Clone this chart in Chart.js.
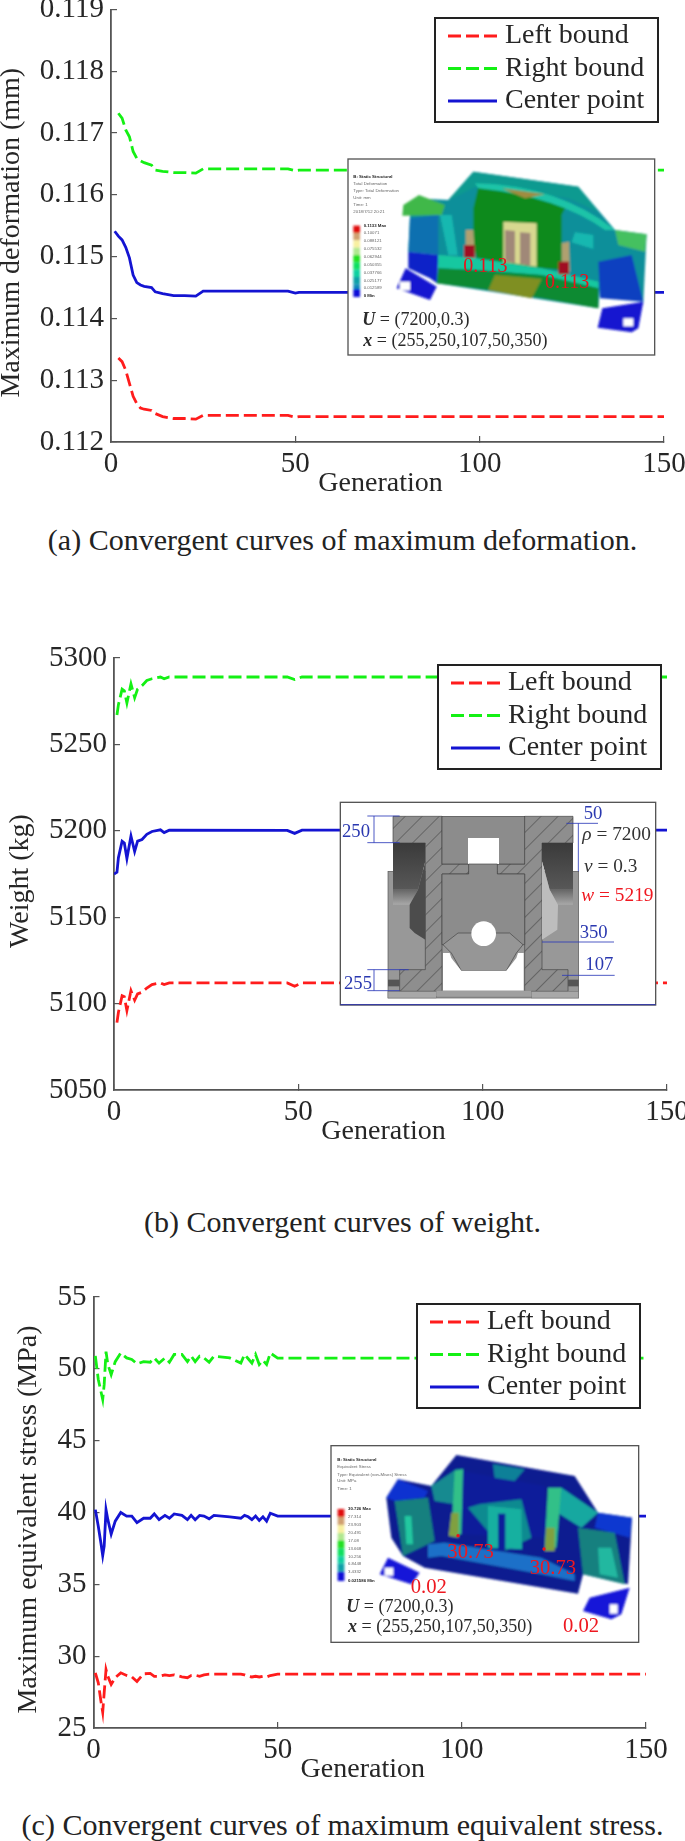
<!DOCTYPE html>
<html>
<head>
<meta charset="utf-8">
<title>Convergent curves</title>
<script src="https://cdn.jsdelivr.net/npm/chart.js@4/dist/chart.umd.js"></script>
<style>
    html, body { margin: 0; padding: 0; background: #fff; }
    body { position: relative; width: 685px; height: 1841px; overflow: hidden; }
    canvas { position: absolute; left: 0; }
    svg { position: absolute; }
    svg text { font-family: "Liberation Serif", serif; }
    svg .small text { font-family: "Liberation Sans", sans-serif; font-size: 13px; fill: #666; }
    svg .small text.strong { font-weight: bold; fill: #222; }
    .caption {
        position: absolute; left: 0; width: 685px; text-align: center; white-space: nowrap;
        font-family: "Liberation Serif", serif; font-size: 30px; line-height: 34px; color: #222;
    }
</style>
</head>
<body>

<canvas id="chartA"></canvas>
<canvas id="chartB"></canvas>
<canvas id="chartC"></canvas>

<div class="caption" style="top:523px">(a) Convergent curves of maximum deformation.</div>
<div class="caption" style="top:1205px">(b) Convergent curves of weight.</div>
<div class="caption" style="top:1808px">(c) Convergent curves of maximum equivalent stress.</div>

<!-- inset (a): deformation contour picture -->
<svg style="left:345px;top:155px" width="320" height="205" viewBox="0 0 960 615">
    <defs>
        <filter id="soft"><feGaussianBlur stdDeviation="3"></feGaussianBlur></filter>
    </defs>
    <rect x="9" y="12" width="920" height="588" fill="#fff" stroke="#555" stroke-width="4"></rect>
    <g filter="url(#soft)">
        <polygon points="155,400 182,340 275,395 255,435" fill="#1212d0"></polygon>
        <polygon points="772,460 895,440 880,520 860,532 758,518" fill="#1212d0"></polygon>
        <polygon points="195,180 210,130 310,135 385,50 700,95 810,225 905,238 895,440 765,400 760,460 275,385 280,300 190,290" fill="#0f8f9a"></polygon>
        <polygon points="172,182 175,150 222,120 300,150 290,180" fill="#3fb84a"></polygon>
        <polygon points="810,225 905,238 900,290 820,270" fill="#45c060"></polygon>
        <polygon points="195,190 280,180 280,300 190,290" fill="#0a6fb0"></polygon>
        <polygon points="190,290 280,300 276,385 255,370 190,340" fill="#1020c8"></polygon>
        <polygon points="760,320 860,300 895,440 765,430" fill="#1040c0"></polygon>
        <polygon points="285,180 320,180 338,300 310,300" fill="#16b8b0"></polygon>
        <polygon points="745,240 690,232 680,262 745,282" fill="#16b8b0"></polygon>
        <polygon points="310,135 385,50 700,95 760,170 670,130 400,92" fill="#0f9a90"></polygon>
        <polygon points="400,95 670,140 650,180 650,345 590,340 395,310 385,260 385,160" fill="#0d8a1c"></polygon>
        <path d="M390,85 Q640,90 810,225 L780,225 Q640,125 400,100 Z" fill="#1bc4a8"></path>
        <polygon points="470,100 600,118 540,130" fill="#a08c40"></polygon>
        <polygon points="475,200 575,205 575,335 475,320" fill="#d8d890"></polygon>
        <polygon points="480,225 510,228 510,325 480,318" fill="#a08878"></polygon>
        <polygon points="525,232 556,234 556,332 525,326" fill="#a08878"></polygon>
        <polygon points="280,300 395,310 590,340 760,380 760,400 590,360 395,345 280,340" fill="#18c8a0"></polygon>
        <polygon points="280,340 395,345 590,360 760,400 760,460 590,430 430,405 275,385" fill="#0d8a30"></polygon>
        <polygon points="450,360 590,372 560,430 430,405" fill="#7f8f20"></polygon>
        <polygon points="362,225 385,225 390,310 362,300" fill="#b0a070"></polygon>
        <polygon points="650,265 672,260 675,350 650,340" fill="#b0a070"></polygon>
        <rect x="357" y="270" width="32" height="38" fill="#a01020"></rect>
        <rect x="640" y="320" width="32" height="38" fill="#a01020"></rect>
        <rect x="165" y="380" width="30" height="26" fill="#fff"></rect>
        <rect x="835" y="490" width="30" height="24" fill="#fff"></rect>
        <rect x="25" y="212" width="20" height="22" fill="#e01010"></rect>
        <rect x="25" y="234" width="20" height="22" fill="#d0a070"></rect>
        <rect x="25" y="256" width="20" height="22" fill="#f8f0a0"></rect>
        <rect x="25" y="278" width="20" height="22" fill="#b0e890"></rect>
        <rect x="25" y="300" width="20" height="22" fill="#20e020"></rect>
        <rect x="25" y="322" width="20" height="22" fill="#10e060"></rect>
        <rect x="25" y="344" width="20" height="22" fill="#10d0a0"></rect>
        <rect x="25" y="366" width="20" height="22" fill="#10a0a8"></rect>
        <rect x="25" y="388" width="20" height="14" fill="#1088b8"></rect>
        <rect x="25" y="402" width="20" height="24" fill="#1010d8"></rect>
    </g>
    <g class="small">
        <text class="strong" x="25" y="68">B: Static Structural</text>
        <text x="25" y="90">Total Deformation</text>
        <text x="25" y="111">Type: Total Deformation</text>
        <text x="25" y="132">Unit: mm</text>
        <text x="25" y="152">Time: 1</text>
        <text x="25" y="173">2018/7/12 20:21</text>
        <text class="strong" x="56" y="216">0.1133 Max</text>
        <text x="56" y="238">0.10071</text>
        <text x="56" y="261">0.088121</text>
        <text x="56" y="285">0.075532</text>
        <text x="56" y="308">0.062944</text>
        <text x="56" y="332">0.050355</text>
        <text x="56" y="356">0.037766</text>
        <text x="56" y="380">0.025177</text>
        <text x="56" y="403">0.012589</text>
        <text class="strong" x="56" y="427">0 Min</text>
    </g>
    <text x="355" y="350" font-size="60" fill="#e8141c">0.113</text>
    <text x="600" y="398" font-size="60" fill="#e8141c">0.113</text>
    <text x="52" y="510" font-size="54" fill="#2a2a2a"><tspan font-weight="bold" font-style="italic">U</tspan> = (7200,0.3)</text>
    <text x="55" y="572" font-size="54" fill="#2a2a2a"><tspan font-weight="bold" font-style="italic">x</tspan> = (255,250,107,50,350)</text>
</svg>

<!-- inset (b): section drawing with dimensions -->
<svg style="left:338px;top:798px" width="330" height="212" viewBox="0 0 990 636">
    <defs>
        <pattern id="hatch" width="36" height="36" patternUnits="userSpaceOnUse" patternTransform="rotate(-45)">
            <rect width="36" height="36" fill="#8e8e8e"></rect>
            <line x1="0" y1="0" x2="36" y2="0" stroke="#3c3c3c" stroke-width="3"></line>
        </pattern>
        <linearGradient id="darkPocket" x1="0" y1="0" x2="0" y2="1">
            <stop offset="0" stop-color="#3a3a3a"></stop>
            <stop offset="1" stop-color="#585858"></stop>
        </linearGradient>
        <linearGradient id="midPocket" x1="0" y1="0" x2="0" y2="1">
            <stop offset="0" stop-color="#666"></stop>
            <stop offset="1" stop-color="#a8a8a8"></stop>
        </linearGradient>
    </defs>
    <rect x="7" y="13" width="946" height="608" fill="#fff" stroke="#555" stroke-width="4"></rect>
    <line x1="7" y1="620" x2="953" y2="620" stroke="#2a30a8" stroke-width="3"></line>
    <rect x="150" y="220" width="572" height="380" fill="#989898" stroke="#555" stroke-width="2"></rect>
    <polygon points="165,55 312,55 312,198 392,198 392,228 312,228 312,580 185,580 185,515 262,515 262,135 165,135" fill="url(#hatch)" stroke="#444" stroke-width="2"></polygon>
    <polygon points="705,55 560,55 560,198 478,198 478,228 560,228 560,580 690,580 690,515 612,515 612,135 705,135" fill="url(#hatch)" stroke="#444" stroke-width="2"></polygon>
    <rect x="312" y="55" width="248" height="143" fill="#8c8c8c" stroke="#444" stroke-width="2"></rect>
    <rect x="390" y="120" width="93" height="78" fill="#fff"></rect>
    <polygon points="312,228 392,228 392,198 478,198 478,228 560,228 560,440 312,440" fill="#8c8c8c" stroke="#444" stroke-width="2"></polygon>
    <polygon points="315,440 360,405 515,405 555,440 535,465 505,518 370,518 340,465" fill="#969696" stroke="#444" stroke-width="2"></polygon>
    <circle cx="437" cy="407" r="37" fill="#fff"></circle>
    <polygon points="315,465 335,465 340,480 370,518 505,518 535,480 540,465 557,465 557,578 315,578" fill="#fff"></polygon>
    <polygon points="165,135 262,135 262,190 240,275 165,275" fill="url(#darkPocket)"></polygon>
    <polygon points="165,275 240,275 215,320 165,320" fill="url(#midPocket)"></polygon>
    <polygon points="215,320 240,275 262,190 262,425 230,405 215,390" fill="#4c4c4c"></polygon>
    <polygon points="612,135 705,135 705,275 635,275 612,190" fill="url(#darkPocket)"></polygon>
    <polygon points="635,275 705,275 705,320 660,320" fill="url(#midPocket)"></polygon>
    <polygon points="612,190 635,275 660,320 658,395 612,425" fill="#bdbdbd"></polygon>
    <rect x="150" y="580" width="145" height="20" fill="#a8a8a8" stroke="#555"></rect>
    <rect x="580" y="580" width="142" height="20" fill="#a8a8a8" stroke="#555"></rect>
    <rect x="295" y="578" width="285" height="16" fill="#a0a0a0"></rect>
    <rect x="150" y="545" width="35" height="20" fill="#555"></rect>
    <rect x="690" y="545" width="32" height="20" fill="#555"></rect>
    <g stroke="#2a38b8" stroke-width="2.5" fill="none">
        <line x1="88" y1="54" x2="185" y2="54"></line>
        <line x1="88" y1="134" x2="185" y2="134"></line>
        <line x1="108" y1="54" x2="108" y2="134"></line>
        <line x1="88" y1="515" x2="212" y2="515"></line>
        <line x1="88" y1="578" x2="185" y2="578"></line>
        <line x1="108" y1="515" x2="108" y2="578"></line>
        <line x1="685" y1="76" x2="780" y2="76"></line>
        <line x1="721" y1="76" x2="721" y2="220"></line>
        <line x1="612" y1="432" x2="828" y2="432"></line>
        <line x1="672" y1="532" x2="830" y2="532"></line>
    </g>
    <g fill="#2a38b0" font-size="56">
        <text x="12" y="118">250</text>
        <text x="18" y="572">255</text>
        <text x="737" y="62">50</text>
        <text x="725" y="420">350</text>
        <text x="742" y="517">107</text>
    </g>
    <text x="733" y="125" font-size="58" fill="#333"><tspan font-style="italic">ρ</tspan> = 7200</text>
    <text x="738" y="222" font-size="58" fill="#333"><tspan font-style="italic">ν</tspan> = 0.3</text>
    <text x="730" y="310" font-size="58" fill="#f01820"><tspan font-style="italic">w</tspan> = 5219</text>
</svg>

<!-- inset (c): stress contour picture -->
<svg style="left:328px;top:1441px" width="320" height="206" viewBox="0 0 960 618">
    <rect x="9" y="14" width="923" height="590" fill="#fff" stroke="#555" stroke-width="4"></rect>
    <g filter="url(#soft)">
        <polygon points="155,400 180,350 275,395 250,430" fill="#1212d8"></polygon>
        <polygon points="785,470 905,440 880,520 850,535 765,510" fill="#1212d8"></polygon>
        <polygon points="175,170 210,115 310,135 385,42 740,105 810,215 912,230 900,430 765,400 750,458 290,380 225,345 190,290" fill="#0a1a90"></polygon>
        <polygon points="175,170 210,115 300,150 290,170 200,180" fill="#1030d0"></polygon>
        <polygon points="810,215 912,230 905,290 800,260" fill="#1038d0"></polygon>
        <polygon points="200,180 300,170 320,300 225,345" fill="#14807f"></polygon>
        <polygon points="230,225 250,225 255,310 235,310" fill="#20c8a0"></polygon>
        <polygon points="660,150 700,140 810,215 760,260 680,210" fill="#18a8a0"></polygon>
        <polygon points="310,135 385,85 405,85 380,190 320,180" fill="#148a90"></polygon>
        <polygon points="400,90 650,135 655,290 400,280" fill="#0a1e9a"></polygon>
        <polygon points="455,190 580,175 610,290 530,330 420,200" fill="#108a90"></polygon>
        <polygon points="480,195 580,205 582,325 480,320" fill="#18b0a0"></polygon>
        <rect x="510" y="218" width="22" height="110" fill="#0a1e9a"></rect>
        <polygon points="380,90 405,85 400,280 370,280" fill="#30c088"></polygon>
        <polygon points="660,140 700,140 685,320 650,320" fill="#30c088"></polygon>
        <polygon points="370,215 392,215 392,290 362,285" fill="#80a040"></polygon>
        <polygon points="655,260 680,260 680,330 650,330" fill="#80a040"></polygon>
        <polygon points="750,260 860,275 890,430 765,400" fill="#14807f"></polygon>
        <polygon points="810,320 850,320 870,410 815,400" fill="#20b8a0"></polygon>
        <polygon points="300,310 350,305 640,350 740,400 740,420 640,400 340,345 300,350" fill="#1a70c8"></polygon>
        <polygon points="495,70 590,85 560,120 500,110" fill="#108098"></polygon>
        <rect x="170" y="380" width="26" height="24" fill="#fff"></rect>
        <rect x="845" y="490" width="24" height="28" fill="#fff"></rect>
        <rect x="29" y="204" width="20" height="24" fill="#e01010"></rect>
        <rect x="29" y="228" width="20" height="24" fill="#d0a070"></rect>
        <rect x="29" y="252" width="20" height="24" fill="#f8f0a0"></rect>
        <rect x="29" y="276" width="20" height="22" fill="#b0e890"></rect>
        <rect x="29" y="298" width="20" height="24" fill="#20e020"></rect>
        <rect x="29" y="322" width="20" height="24" fill="#10e060"></rect>
        <rect x="29" y="346" width="20" height="22" fill="#10d0a0"></rect>
        <rect x="29" y="368" width="20" height="24" fill="#10a0a8"></rect>
        <rect x="29" y="392" width="20" height="28" fill="#1010d8"></rect>
    </g>
    <circle cx="390" cy="284" r="5" fill="#f01018"></circle>
    <circle cx="648" cy="324" r="5" fill="#f01018"></circle>
    <g class="small">
        <text class="strong" x="28" y="60">B: Static Structural</text>
        <text x="28" y="82">Equivalent Stress</text>
        <text x="28" y="104">Type: Equivalent (von-Mises) Stress</text>
        <text x="28" y="124">Unit: MPa</text>
        <text x="28" y="146">Time: 1</text>
        <text class="strong" x="60" y="208">30.726 Max</text>
        <text x="60" y="232">27.314</text>
        <text x="60" y="256">23.903</text>
        <text x="60" y="279">20.491</text>
        <text x="60" y="303">17.08</text>
        <text x="60" y="326">13.668</text>
        <text x="60" y="350">10.256</text>
        <text x="60" y="373">6.8448</text>
        <text x="60" y="397">3.4332</text>
        <text class="strong" x="60" y="422">0.021586 Min</text>
    </g>
    <text x="358" y="352" font-size="62" fill="#ee1820">30.73</text>
    <text x="605" y="400" font-size="62" fill="#ee1820">30.73</text>
    <text x="248" y="455" font-size="62" fill="#ee1820">0.02</text>
    <text x="705" y="572" font-size="62" fill="#ee1820">0.02</text>
    <text x="55" y="514" font-size="54" fill="#2a2a2a"><tspan font-weight="bold" font-style="italic">U</tspan> = (7200,0.3)</text>
    <text x="60" y="574" font-size="54" fill="#2a2a2a"><tspan font-weight="bold" font-style="italic">x</tspan> = (255,250,107,50,350)</text>
</svg>

<script>
    // Values, generation by generation
    var seriesNames = ["Left bound", "Right bound", "Center point"];
    var xTicks = [0, 50, 100, 150];

    var genA = [1, 2, 3, 4, 5, 6, 7, 8, 9, 11, 12, 14, 17, 20, 23, 25, 48, 50, 51, 150];
    var leftA = [null, 0.11336, 0.1133, 0.11316, 0.11295, 0.11274, 0.11262, 0.11255, 0.11253, 0.11251, 0.11246, 0.11241, 0.11238, 0.11238, 0.11237, 0.11243, 0.11243, 0.1124, 0.11241, 0.11241];
    var rightA = [null, 0.11732, 0.11724, 0.11705, 0.11694, 0.1167, 0.11659, 0.11655, 0.11652, 0.11648, 0.1164, 0.11638, 0.11636, 0.11636, 0.11635, 0.11642, 0.11642, 0.11639, 0.1164, 0.1164];
    var centerA = [0.11541, 0.11533, 0.11527, 0.11515, 0.11498, 0.1147, 0.11458, 0.11454, 0.11452, 0.1145, 0.11443, 0.1144, 0.11437, 0.11437, 0.11436, 0.11444, 0.11444, 0.11441, 0.11442, 0.11442];
    var yTicksA = [0.112, 0.113, 0.114, 0.115, 0.116, 0.117, 0.118, 0.119];

    var genB = [0, 0.8, 1.2, 2.2, 2.8, 3.5, 4.6, 5.6, 6.4, 7.6, 8.9, 10.3, 12.6, 13.6, 15, 47, 49, 51, 150];
    var leftB = [null, 5089, 5095, 5104.6, 5104, 5096, 5107.5, 5102, 5105.6, 5106.6, 5109, 5111, 5112, 5111, 5112, 5112, 5110, 5112, 5112];
    var rightB = [null, 5267, 5273, 5282, 5281, 5274, 5285, 5277, 5282, 5284, 5287, 5288, 5289, 5288, 5289, 5289, 5287.5, 5289, 5289];
    var centerB = [5175, 5176, 5184.5, 5194, 5193, 5184, 5197, 5188, 5194, 5195, 5198, 5199.6, 5200.6, 5199, 5200.4, 5200.2, 5198.5, 5200.4, 5200.4];
    var yTicksB = [5050, 5100, 5150, 5200, 5250, 5300];

    var genC = [0.5, 1.3, 2, 2.5, 2.9, 3.4, 3.9, 4.8, 5.9, 7.4, 9, 10.4, 11.8, 13.6, 15.4, 16.5, 17.8, 19.4, 20.6, 21.9, 24, 25.5, 26.5, 27.6, 28.8, 30, 31.4, 32.7, 37, 40, 41, 42, 43, 44, 45, 46, 47, 48, 50, 150];
    var leftC = [28.84, 28.15, 26.9, 26.1, 27.45, 29.07, 28.6, 28.03, 28.5, 28.84, 28.66, 28.56, 28.24, 28.77, 28.8, 28.6, 28.6, 28.7, 28.65, 28.7, 28.56, 28.5, 28.65, 28.68, 28.6, 28.7, 28.75, 28.75, 28.75, 28.75, 28.7, 28.6, 28.55, 28.6, 28.55, 28.6, 28.55, 28.65, 28.75, 28.75];
    var rightC = [50.9, 49.26, 48.45, 47.87, 48.9, 51.2, 50.3, 49.6, 50.5, 51.1, 50.76, 50.65, 50.35, 50.5, 50.46, 50.76, 50.4, 50.76, 50.46, 51, 51, 50.5, 50.9, 50.5, 50.88, 50.76, 50.46, 50.88, 50.76, 50.4, 51, 50.7, 50.4, 51, 50.3, 50.6, 50.3, 51.1, 50.75, 50.75];
    var centerC = [40.2, 39.05, 37.9, 37, 37.66, 40.2, 39.5, 38.5, 39.4, 40, 39.75, 39.75, 39.3, 39.6, 39.6, 39.9, 39.5, 39.8, 39.6, 39.9, 39.8, 39.5, 39.8, 39.5, 39.8, 39.75, 39.56, 39.8, 39.7, 39.6, 39.8, 39.7, 39.5, 39.75, 39.45, 39.7, 39.4, 39.95, 39.75, 39.75];
    var yTicksC = [25, 30, 35, 40, 45, 50, 55];

    var serif = "'Liberation Serif', serif";
    var textColor = "#262626";
    var axisColor = "#555";

    // Legend box sits over the plot, so Chart.js' own legend can't place it
    var boxedLegend = {
        id: "boxedLegend",
        afterDatasetsDraw: function (chart, args, opts) {
            var ctx = chart.ctx;
            ctx.save();
            ctx.fillStyle = "#fff";
            ctx.strokeStyle = "#222";
            ctx.lineWidth = 2;
            ctx.fillRect(opts.x, opts.y, 223, 104);
            ctx.strokeRect(opts.x, opts.y, 223, 104);
            ctx.font = "28px " + serif;
            ctx.textBaseline = "middle";
            chart.data.datasets.forEach(function (ds, i) {
                var rowY = opts.y + 18 + i * 32.5;
                ctx.strokeStyle = ds.borderColor;
                ctx.lineWidth = ds.borderWidth;
                ctx.setLineDash(ds.borderDash);
                ctx.beginPath();
                ctx.moveTo(opts.x + 13, rowY);
                ctx.lineTo(opts.x + 62, rowY);
                ctx.stroke();
                ctx.fillStyle = textColor;
                ctx.fillText(ds.label, opts.x + 70, rowY);
            });
            ctx.restore();
        }
    };

    function toPoints(gens, values) {
        return gens.map(function (g, i) {
            return { x: g, y: values[i] };
        });
    }

    function makeChart(id, setup) {
        var canvas = document.getElementById(id);
        var xHeight = 53;
        canvas.width = 685;
        canvas.height = setup.plotBottom + xHeight - setup.canvasTop;
        canvas.style.top = setup.canvasTop + "px";

        new Chart(canvas, {
            type: "line",
            data: {
                datasets: [
                    { label: seriesNames[0], data: toPoints(setup.gens, setup.left), borderColor: "#ff1c1c", borderWidth: 2.8, borderDash: [13, 5] },
                    { label: seriesNames[1], data: toPoints(setup.gens, setup.right), borderColor: "#14f014", borderWidth: 2.8, borderDash: [13, 5] },
                    { label: seriesNames[2], data: toPoints(setup.gens, setup.center), borderColor: "#1414d2", borderWidth: 2.8, borderDash: [] }
                ]
            },
            options: {
                responsive: false,
                animation: false,
                elements: { point: { radius: 0 }, line: { tension: 0 } },
                layout: { padding: { top: setup.plotTop - setup.canvasTop, right: 685 - setup.plotRight, left: 0, bottom: 0 } },
                plugins: {
                    legend: { display: false },
                    tooltip: { enabled: false },
                    boxedLegend: { x: setup.legendX, y: setup.legendY - setup.canvasTop }
                },
                scales: {
                    x: {
                        type: "linear",
                        min: 0,
                        max: 150,
                        afterBuildTicks: function (scale) {
                            scale.ticks = xTicks.map(function (v) { return { value: v }; });
                        },
                        afterFit: function (scale) {
                            scale.height = xHeight;
                            scale.paddingRight = 0;
                            scale.paddingLeft = 0;
                        },
                        grid: { drawOnChartArea: false, tickLength: -6, color: axisColor, lineWidth: 1.2 },
                        border: { color: axisColor, width: 1.8 },
                        ticks: { padding: 11, maxRotation: 0, autoSkip: false, color: textColor, font: { family: serif, size: 29 } },
                        // trailing spaces pull the title off the plot centre, as in the original
                        title: { display: true, text: "Generation  ", color: textColor, padding: 0, font: { family: serif, size: 28, lineHeight: 0.8 } }
                    },
                    y: {
                        min: setup.yTicks[0],
                        max: setup.yTicks[setup.yTicks.length - 1],
                        afterBuildTicks: function (scale) {
                            scale.ticks = setup.yTicks.map(function (v) { return { value: v }; });
                        },
                        afterFit: function (scale) {
                            scale.width = setup.plotLeft;
                            scale.paddingTop = 0;
                            scale.paddingBottom = 0;
                        },
                        grid: { drawOnChartArea: false, tickLength: -6, color: axisColor, lineWidth: 1.2 },
                        border: { color: axisColor, width: 1.8 },
                        ticks: {
                            padding: 13,
                            autoSkip: false,
                            color: textColor,
                            font: { family: serif, size: 29 },
                            callback: function (v) { return setup.yDigits ? v.toFixed(setup.yDigits) : String(v); }
                        },
                        title: { display: true, text: setup.yTitle + "  ", color: textColor, padding: { top: setup.yTitleX - 11.2, bottom: 0 }, font: { family: serif, size: 28, lineHeight: 0.8 } }
                    }
                }
            },
            plugins: [boxedLegend]
        });
    }

    makeChart("chartA", {
        canvasTop: 0, plotLeft: 111, plotRight: 664, plotTop: 9.4, plotBottom: 442.7, legendX: 435, legendY: 18, yTitleX: 12,
        gens: genA, left: leftA, right: rightA, center: centerA, yTicks: yTicksA, yDigits: 3,
        yTitle: "Maximum deformation (mm)"
    });

    makeChart("chartB", {
        canvasTop: 630, plotLeft: 114, plotRight: 667, plotTop: 658, plotBottom: 1090, legendX: 438, legendY: 665, yTitleX: 21,
        gens: genB, left: leftB, right: rightB, center: centerB, yTicks: yTicksB, yDigits: 0,
        yTitle: "Weight (kg)"
    });

    makeChart("chartC", {
        canvasTop: 1270, plotLeft: 93.5, plotRight: 646, plotTop: 1297, plotBottom: 1728.7, legendX: 417, legendY: 1304, yTitleX: 28.5,
        gens: genC, left: leftC, right: rightC, center: centerC, yTicks: yTicksC, yDigits: 0,
        yTitle: "Maximum equivalent stress (MPa)"
    });
</script>
</body>
</html>
